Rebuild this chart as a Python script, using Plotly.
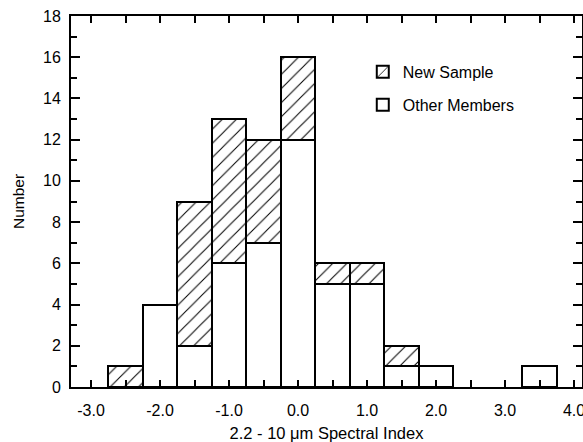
import plotly.graph_objects as go

bin_centers = [-2.5, -2.0, -1.5, -1.0, -0.5, 0.0, 0.5, 1.0, 1.5, 2.0, 3.5]
other_members = [None, 4, 2, 6, 7, 12, 5, 5, 1, 1, 1]
new_sample = [1, None, 7, 7, 5, 4, 1, 1, 1, None, None]
x_tick_vals = [-3, -2, -1, 0, 1, 2, 3, 4]
x_tick_text = ["-3.0", "-2.0", "-1.0", "0.0", "1.0", "2.0", "3.0", "4.0"]
y_tick_vals = [0, 2, 4, 6, 8, 10, 12, 14, 16, 18]

FONT = "Liberation Sans, Arial, Helvetica, sans-serif"

fig = go.Figure()
fig.add_trace(go.Bar(
    x=bin_centers, y=other_members, width=0.5, name="Other Members",
    marker=dict(color="white", line=dict(color="black", width=2)),
    legendgroup="other", legendrank=2,
))
fig.add_trace(go.Bar(
    x=bin_centers, y=new_sample, width=0.5, name="New Sample",
    marker=dict(color="white", line=dict(color="black", width=2),
                pattern=dict(shape="/", fgcolor="black", bgcolor="white",
                             size=10, solidity=0.1, fillmode="replace")),
    legendgroup="new", legendrank=1,
))

axis_common = dict(
    showgrid=False, zeroline=False, showline=True, linecolor="black",
    linewidth=2, mirror="ticks", ticks="inside", tickcolor="black",
    tickwidth=1.5, tickfont=dict(family=FONT, size=16, color="black"),
    automargin=False, ticklabeloverflow="allow",
)

fig.update_layout(
    width=583, height=442,
    margin=dict(l=71, r=1, t=16, b=55),
    paper_bgcolor="white", plot_bgcolor="white",
    barmode="stack", bargap=0,
    font=dict(family=FONT, size=16, color="black"),
    xaxis=dict(range=[-3.29, 4.116], tickvals=x_tick_vals, ticktext=x_tick_text,
               ticklen=7, ticklabelstandoff=8,
               minor=dict(ticks="inside", dtick=0.5, tick0=0,
                          ticklen=7, tickcolor="black", tickwidth=1.5),
               title=dict(text="2.2 - 10 \u03bcm Spectral Index",
                          font=dict(family=FONT, size=16.5)),
               **axis_common),
    yaxis=dict(range=[0, 18], tickvals=y_tick_vals, ticklen=9,
               ticklabelstandoff=5,
               minor=dict(ticks="inside", dtick=1, ticklen=6, tickcolor="black",
                          tickwidth=1.5),
               title=dict(text="Number", font=dict(family=FONT, size=15.5)),
               **axis_common),
    legend=dict(x=0.571, y=0.895, xanchor="left", yanchor="top",
                bgcolor="rgba(0,0,0,0)", borderwidth=0,
                traceorder="grouped", tracegroupgap=9,
                font=dict(family=FONT, size=16, color="black")),
)

fig.write_html(
    "out.html",
    config={"displayModeBar": False},
    post_script="document.body.style.margin='0';"
                "document.documentElement.style.overflow='hidden';",
)
